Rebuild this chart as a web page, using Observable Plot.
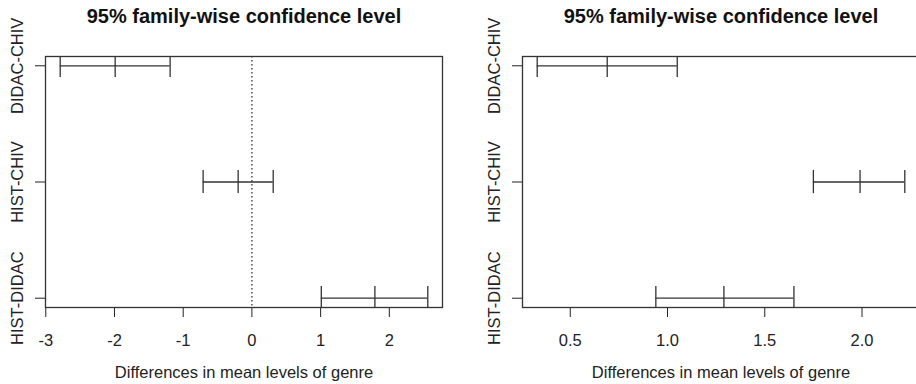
<!DOCTYPE html>
<html>
<head>
<meta charset="utf-8">
<script src="https://cdn.jsdelivr.net/npm/d3@7"></script>
<script src="https://cdn.jsdelivr.net/npm/@observablehq/plot@0.6"></script>
<style>
  html, body { margin: 0; padding: 0; background: #fff; }
  #wrap { width: 916px; height: 384px; overflow: hidden; display: flex; }
  #wrap > * { flex: 0 0 auto; }
</style>
</head>
<body>
<div id="wrap"></div>
<script>
// ---- data ----
const comparisons = ["DIDAC-CHIV", "HIST-CHIV", "HIST-DIDAC"];
const positions = [3, 2, 1];
const titleText = "95% family-wise confidence level";
const xLabel = "Differences in mean levels of genre";

const leftDiff = [-1.99, -0.20, 1.79];
const leftLwr  = [-2.79, -0.71, 1.01];
const leftUpr  = [-1.19,  0.31, 2.56];
const leftTicks = [-3, -2, -1, 0, 1, 2];

const rightDiff = [0.69, 1.99, 1.29];
const rightLwr  = [0.33, 1.75, 0.94];
const rightUpr  = [1.05, 2.22, 1.65];
const rightTicks = [0.5, 1.0, 1.5, 2.0];

// R-style 4% axis extension
function extend(lo, hi) { const d = (hi - lo) * 0.04; return [lo - d, hi + d]; }

function panel(diff, lwr, upr, ticks, fmt) {
  const rows = comparisons.map((c, i) => ({comp: c, pos: positions[i], diff: diff[i], lwr: lwr[i], upr: upr[i]}));
  const tickRows = rows.flatMap(r => [{pos: r.pos, x: r.lwr}, {pos: r.pos, x: r.diff}, {pos: r.pos, x: r.upr}]);
  const xDomain = extend(d3.min(lwr), d3.max(upr));
  const yDomain = extend(d3.min(positions), d3.max(positions));
  const ink = "#333";
  return Plot.plot({
    width: 477,
    height: 384,
    marginTop: 56,
    marginBottom: 77,
    marginLeft: 45,
    marginRight: 35,
    style: {fontFamily: "'Liberation Sans', Arial, Helvetica, sans-serif", fontSize: "16.5px", color: "#222", background: "#fff"},
    x: {domain: xDomain, ticks: ticks, tickFormat: fmt, tickSize: 10, tickPadding: 17, label: null},
    y: {domain: yDomain, ticks: positions, tickFormat: () => "", tickSize: 10, label: null},
    marks: [
      Plot.ruleX([0], {stroke: ink, strokeWidth: 1.3, strokeDasharray: "1.5,2.5", clip: true}),
      Plot.ruleY(rows, {y: "pos", x1: "lwr", x2: "upr", stroke: ink, strokeWidth: 1.3}),
      Plot.ruleX(tickRows, {x: "x", y1: d => d.pos - 0.1, y2: d => d.pos + 0.1, stroke: ink, strokeWidth: 1.3, clip: true}),
      Plot.frame({stroke: ink, strokeWidth: 1.3}),
      Plot.text(rows, {y: "pos", text: "comp", frameAnchor: "left", textAnchor: "middle", lineAnchor: "middle", dx: -28, rotate: -90, fill: "#222", fontSize: 16.5}),
      Plot.text([titleText], {text: d => d, frameAnchor: "top", lineAnchor: "middle", dy: -40, fontWeight: "bold", fontSize: 20, fill: "#111"}),
      Plot.text([xLabel], {text: d => d, frameAnchor: "bottom", lineAnchor: "middle", dy: 65, fill: "#222", fontSize: 16.5})
    ]
  });
}

const wrap = document.getElementById("wrap");
wrap.appendChild(panel(leftDiff, leftLwr, leftUpr, leftTicks, d => String(d)));
wrap.appendChild(panel(rightDiff, rightLwr, rightUpr, rightTicks, d => d.toFixed(1)));
</script>
</body>
</html>
